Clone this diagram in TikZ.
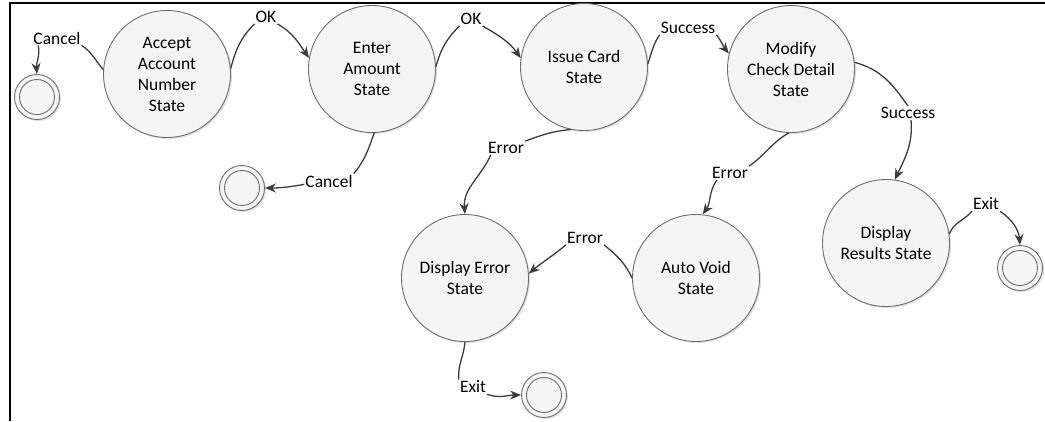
\documentclass[tikz,border=0pt]{standalone}
\usepackage{fontspec}
\setmainfont{Carlito}
\usetikzlibrary{arrows.meta,shadows}
\definecolor{edgecol}{HTML}{3C3C3C}
\definecolor{circfill}{HTML}{F5F5F5}
\definecolor{circdraw}{HTML}{6E6E6E}
\tikzset{
  statebox/.style={circle,draw=circdraw,line width=0.9pt,fill=circfill,minimum size=127pt,inner sep=0pt,align=center,
    font=\fontsize{17.5}{21}\selectfont,
    drop shadow={shadow xshift=1.5pt,shadow yshift=-1.5pt,opacity=0.25,fill=gray}},
  finalbox/.style={circle,draw=circdraw,line width=0.9pt,fill=circfill,minimum size=45pt,inner sep=0pt,
    drop shadow={shadow xshift=1.5pt,shadow yshift=-1.5pt,opacity=0.25,fill=gray}},
  innerring/.style={circle,draw=circdraw,line width=0.9pt,minimum size=35pt,inner sep=0pt},
  lbl/.style={inner sep=1pt,font=\fontsize{17.5}{20}\selectfont,text=black},
  conn/.style={draw=edgecol,line width=1.3pt},
  arr/.style={conn,-{Stealth[length=11pt,width=9pt]}}
}
\begin{document}
\begin{tikzpicture}[x=1pt,y=1pt]
\useasboundingbox (0,0) rectangle (1045,-421);
\draw[line width=2pt] (10,-421) -- (10,-3) -- (1045,-3);

% states
\node[statebox] (acc) at (167,-74) {Accept\\Account\\Number\\State};
\node[statebox] (ent) at (372,-69) {Enter\\Amount\\State};
\node[statebox] (iss) at (584,-67) {Issue Card\\State};
\node[statebox] (mod) at (791,-69) {Modify\\Check Detail\\State};
\node[statebox] (dres) at (886,-243) {Display\\Results State};
\node[statebox] (avoid) at (696,-278) {Auto Void\\State};
\node[statebox] (derr) at (465,-278) {Display Error\\State};

% final states
\node[finalbox] (f1) at (37,-97) {};
\node[innerring] (f1i) at (f1) {};
\node[finalbox] (f2) at (242,-188) {};
\node[innerring] (f2i) at (f2) {};
\node[finalbox] (f3) at (544,-395) {};
\node[innerring] (f3i) at (f3) {};
\node[finalbox] (f4) at (1020,-268) {};
\node[innerring] (f4i) at (f4) {};

% labels
\node[lbl] (lc1) at (57,-38) {Cancel};
\node[lbl] (lok1) at (266,-17) {OK};
\node[lbl] (lok2) at (471,-19) {OK};
\node[lbl] (lsuc1) at (688,-28) {Success};
\node[lbl] (lc2) at (329,-181) {Cancel};
\node[lbl] (lerr1) at (506,-148) {Error};
\node[lbl] (lerr2) at (730,-173) {Error};
\node[lbl] (lsuc2) at (908,-113) {Success};
\node[lbl] (lerr3) at (585,-238) {Error};
\node[lbl] (lexit1) at (986,-204) {Exit};
\node[lbl] (lexit2) at (473,-387) {Exit};

% connectors
\draw[conn] (acc.176) to[out=130,in=-35] (lc1.south east);
\draw[arr] (lc1.south west) ++(6,0) to[out=-80,in=95] (f1.north);

\draw[conn] (acc.5) to[out=75,in=-135] (lok1.south west);
\draw[arr] (lok1.south east) to[out=-30,in=125] (ent.170);

\draw[conn] (ent.2) to[out=75,in=-135] (lok2.south west);
\draw[arr] (lok2.south east) to[out=-30,in=125] (iss.172);

\draw[conn] (iss.3) to[out=70,in=-125] (lsuc1.south west);
\draw[arr] (lsuc1.south east) to[out=-50,in=130] (mod.166);

\draw[conn] (ent.272) to[out=-110,in=50] (lc2.north east);
\draw[arr] (lc2.south west) ++(0,4) to[out=190,in=0] (f2.east);

\draw[conn] (iss.258) to[out=185,in=20] (lerr1.north east);
\draw[arr] (lerr1.south west) ++(4,0) to[out=-115,in=95] (derr.north);

\draw[conn] (mod.268) to[out=210,in=35] (lerr2.north east);
\draw[arr] (lerr2.south west) ++(6,0) to[out=-125,in=55] (avoid.84);

\draw[conn] (mod.6) to[out=-15,in=125] (lsuc2.north);
\draw[arr] (lsuc2.south) ++(3,0) to[out=-85,in=65] (dres.82);

\draw[conn] (avoid.180) to[out=115,in=-40] (lerr3.south east);
\draw[arr] (lerr3.south west) to[out=-140,in=40] (derr.4);

\draw[conn] (dres.8) to[out=70,in=-130] (lexit1.south west);
\draw[arr] (lexit1.south east) to[out=-35,in=95] (f4.north);

\draw[conn] (derr.270) to[out=-95,in=95] (lexit2.north west);
\draw[arr] (lexit2.south east) to[out=-20,in=180] (f3.west);
\end{tikzpicture}
\end{document}
